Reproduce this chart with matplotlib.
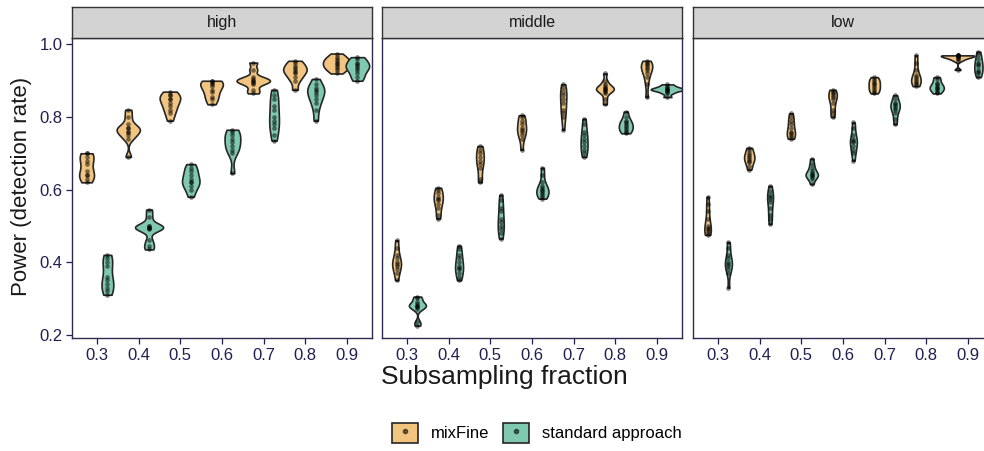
import numpy as np
import matplotlib
matplotlib.use("Agg")
import matplotlib.pyplot as plt
from matplotlib.patches import Patch
from matplotlib.lines import Line2D

plt.rcParams["font.family"] = ["Liberation Sans", "DejaVu Sans"]

# --- data ---
fractions = [0.3, 0.4, 0.5, 0.6, 0.7, 0.8, 0.9]
panels = ["high", "middle", "low"]
methods = ["mixFine", "standard approach"]

high_mixfine = [
    [0.62, 0.63, 0.64, 0.64, 0.65, 0.67, 0.68, 0.69, 0.70, 0.70],
    [0.69, 0.74, 0.75, 0.76, 0.76, 0.77, 0.77, 0.78, 0.80, 0.82],
    [0.79, 0.81, 0.82, 0.83, 0.84, 0.85, 0.85, 0.86, 0.86, 0.87],
    [0.835, 0.85, 0.855, 0.87, 0.875, 0.885, 0.89, 0.895, 0.90, 0.90],
    [0.865, 0.875, 0.89, 0.895, 0.90, 0.90, 0.905, 0.91, 0.93, 0.95],
    [0.875, 0.90, 0.91, 0.92, 0.925, 0.93, 0.935, 0.94, 0.95, 0.955],
    [0.92, 0.93, 0.935, 0.94, 0.945, 0.95, 0.955, 0.96, 0.965, 0.975],
]
high_standard = [
    [0.31, 0.32, 0.33, 0.34, 0.35, 0.36, 0.39, 0.40, 0.41, 0.42],
    [0.435, 0.445, 0.46, 0.49, 0.495, 0.495, 0.495, 0.50, 0.50, 0.525, 0.545],
    [0.58, 0.60, 0.61, 0.62, 0.62, 0.63, 0.64, 0.65, 0.66, 0.67],
    [0.645, 0.70, 0.71, 0.72, 0.73, 0.74, 0.75, 0.76, 0.765],
    [0.735, 0.75, 0.77, 0.78, 0.79, 0.80, 0.82, 0.83, 0.85, 0.86, 0.875],
    [0.79, 0.82, 0.84, 0.85, 0.86, 0.87, 0.875, 0.88, 0.89, 0.905],
    [0.90, 0.91, 0.92, 0.93, 0.935, 0.94, 0.945, 0.95, 0.96, 0.965],
]
middle_mixfine = [
    [0.35, 0.37, 0.38, 0.39, 0.395, 0.40, 0.41, 0.42, 0.44, 0.46],
    [0.52, 0.53, 0.55, 0.56, 0.57, 0.575, 0.58, 0.59, 0.60, 0.605],
    [0.62, 0.63, 0.66, 0.67, 0.68, 0.69, 0.70, 0.71, 0.72],
    [0.71, 0.74, 0.75, 0.76, 0.765, 0.77, 0.78, 0.79, 0.80, 0.805],
    [0.765, 0.80, 0.81, 0.82, 0.84, 0.85, 0.86, 0.87, 0.88, 0.89],
    [0.835, 0.85, 0.865, 0.87, 0.875, 0.875, 0.88, 0.88, 0.885, 0.89, 0.90, 0.92],
    [0.855, 0.89, 0.91, 0.92, 0.93, 0.935, 0.94, 0.945, 0.95, 0.955],
]
middle_standard = [
    [0.225, 0.235, 0.27, 0.275, 0.28, 0.28, 0.285, 0.29, 0.30, 0.305],
    [0.35, 0.36, 0.37, 0.38, 0.385, 0.39, 0.40, 0.41, 0.42, 0.435, 0.445],
    [0.465, 0.48, 0.49, 0.50, 0.51, 0.52, 0.54, 0.55, 0.57, 0.585],
    [0.575, 0.58, 0.585, 0.59, 0.595, 0.60, 0.605, 0.61, 0.62, 0.64, 0.66],
    [0.69, 0.70, 0.71, 0.72, 0.73, 0.74, 0.75, 0.76, 0.78, 0.795],
    [0.755, 0.76, 0.765, 0.77, 0.775, 0.78, 0.785, 0.79, 0.80, 0.815],
    [0.855, 0.865, 0.87, 0.875, 0.875, 0.875, 0.88, 0.88, 0.885, 0.89],
]
low_mixfine = [
    [0.475, 0.48, 0.485, 0.49, 0.495, 0.50, 0.52, 0.54, 0.56, 0.58],
    [0.655, 0.665, 0.675, 0.68, 0.685, 0.69, 0.695, 0.70, 0.71, 0.715],
    [0.74, 0.745, 0.75, 0.755, 0.76, 0.77, 0.78, 0.79, 0.80, 0.81],
    [0.80, 0.81, 0.82, 0.84, 0.85, 0.855, 0.86, 0.865, 0.87, 0.875],
    [0.865, 0.87, 0.875, 0.88, 0.885, 0.89, 0.895, 0.90, 0.905, 0.91],
    [0.885, 0.89, 0.895, 0.90, 0.905, 0.91, 0.915, 0.93, 0.95, 0.97],
    [0.93, 0.955, 0.96, 0.963, 0.965, 0.967, 0.97, 0.97, 0.97, 0.97],
]
low_standard = [
    [0.33, 0.37, 0.38, 0.39, 0.395, 0.40, 0.41, 0.42, 0.44, 0.455],
    [0.505, 0.52, 0.53, 0.55, 0.565, 0.575, 0.58, 0.585, 0.595, 0.61],
    [0.615, 0.63, 0.635, 0.64, 0.64, 0.645, 0.65, 0.66, 0.67, 0.685],
    [0.68, 0.70, 0.71, 0.72, 0.73, 0.735, 0.74, 0.75, 0.77, 0.785],
    [0.78, 0.795, 0.81, 0.82, 0.825, 0.83, 0.835, 0.84, 0.85, 0.86],
    [0.865, 0.87, 0.875, 0.88, 0.88, 0.885, 0.89, 0.895, 0.905, 0.91],
    [0.91, 0.92, 0.925, 0.93, 0.94, 0.945, 0.95, 0.96, 0.97, 0.98],
]

panel_data = {
    "high": (high_mixfine, high_standard),
    "middle": (middle_mixfine, middle_standard),
    "low": (low_mixfine, low_standard),
}

fill_colors = ["#F1C57F", "#80C9B1"]
line_col = "#262626"
navy = "#231E50"
dodge = 0.025
max_width = 0.08


def bw_nrd0(x):
    x = np.asarray(x)
    hi = np.std(x, ddof=1)
    q75, q25 = np.percentile(x, [75, 25])
    lo = min(hi, (q75 - q25) / 1.34)
    if lo == 0:
        lo = hi or 1.0
    return 0.9 * lo * len(x) ** -0.2


def kde(vals):
    vals = np.asarray(vals)
    bw = bw_nrd0(vals)
    grid = np.linspace(vals.min(), vals.max(), 256)
    z = (grid[:, None] - vals[None, :]) / bw
    dens = np.exp(-0.5 * z ** 2).sum(axis=1) / (len(vals) * bw * np.sqrt(2 * np.pi))
    return grid, dens


W, H = 984, 451
fig = plt.figure(figsize=(W / 100, H / 100), dpi=100)


def px_axes(x0, y0, x1, y1):
    return fig.add_axes([x0 / W, 1 - y1 / H, (x1 - x0) / W, (y1 - y0) / H])


lefts = [72, 382, 693]
for pi, name in enumerate(panels):
    x0 = lefts[pi]
    ax = px_axes(x0, 38.3, x0 + 300, 338.3)
    strip = px_axes(x0, 7, x0 + 300, 38.3)

    groups = panel_data[name]
    dens_all = []
    for mi in range(2):
        for vals in groups[mi]:
            dens_all.append(kde(vals))
    dmax = max(d.max() for _, d in dens_all)

    k = 0
    for mi in range(2):
        for fi, frac in enumerate(fractions):
            grid, dens = dens_all[k]
            k += 1
            xc = frac - dodge if mi == 0 else frac + dodge
            hw = dens / dmax * max_width / 2
            ax.fill_betweenx(grid, xc - hw, xc + hw, facecolor=fill_colors[mi],
                             edgecolor=line_col, linewidth=1.2, zorder=2)
            vals = groups[mi][fi]
            ax.scatter(np.full(len(vals), xc), vals, s=11, c="black",
                       alpha=0.5, linewidths=0, zorder=3)

    ax.set_xlim(0.24, 0.96)
    ax.set_ylim(0.19, 1.017)
    ax.set_xticks(fractions)
    ax.set_xticklabels([f"{f:.1f}" for f in fractions])
    ax.set_yticks([0.2, 0.4, 0.6, 0.8, 1.0])
    if pi == 0:
        ax.set_yticklabels(["0.2", "0.4", "0.6", "0.8", "1.0"])
    else:
        ax.tick_params(axis="y", left=False, labelleft=False)
    ax.tick_params(colors=navy, labelcolor=navy, labelsize=12, length=4,
                   width=0.9, pad=3)
    for sp in ax.spines.values():
        sp.set_color("#2E2A50")
        sp.set_linewidth(1.0)

    strip.set_facecolor("#D3D3D3")
    strip.set_xticks([])
    strip.set_yticks([])
    for sp in strip.spines.values():
        sp.set_color("#333333")
        sp.set_linewidth(1.0)
    strip.text(0.5, 0.5, name, ha="center", va="center", fontsize=11.5,
               color="#1A1A1A", transform=strip.transAxes)

fig.text(504.5 / W, 1 - 377 / H, "Subsampling fraction", ha="center",
         va="center", fontsize=19, color="#1A1A1A")
fig.text(22 / W, 1 - 186 / H, "Power (detection rate)", ha="center",
         va="center", rotation=90, fontsize=16, color="#1A1A1A")

handles = []
for mi in range(2):
    handles.append((Patch(facecolor=fill_colors[mi], edgecolor=line_col, linewidth=1.2),
                    Line2D([], [], marker="o", color="black", alpha=0.55,
                           markersize=3, linestyle="none")))
fig.legend(handles, methods, loc="center", bbox_to_anchor=(537 / W, 1 - 433 / H),
           ncol=2, frameon=False, fontsize=12, handlelength=1.55,
           handleheight=1.55, handletextpad=0.8, columnspacing=0.8)

fig.savefig("out.png", dpi=100)
